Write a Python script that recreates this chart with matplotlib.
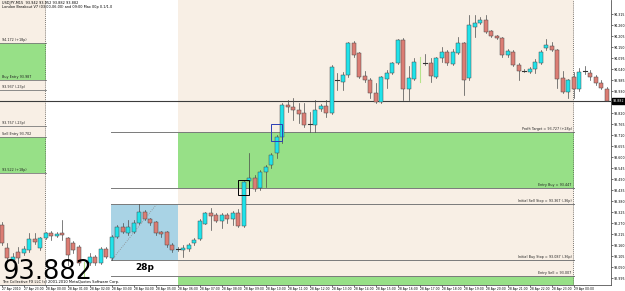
import numpy as np
import pandas as pd
import matplotlib
matplotlib.use("Agg")
import matplotlib.pyplot as plt
from matplotlib.patches import Rectangle
import matplotlib.transforms as mtransforms

# USDJPY M15 bars, 27 Apr 22:00 -> 29 Apr 01:30
symbol = "USDJPY,M15"
start_time = "2010-04-27 22:00"

opens = [93.262, 93.147, 93.087, 93.127, 93.122, 93.137, 93.192, 93.147, 93.197, 93.222,
         93.207, 93.222, 93.197, 93.172, 93.152, 93.067, 93.072, 93.102, 93.072, 93.142,
         93.097, 93.202, 93.252, 93.222, 93.227, 93.272, 93.327, 93.292, 93.277, 93.227,
         93.227, 93.162, 93.142, 93.137, 93.142, 93.172, 93.192, 93.267, 93.322, 93.312,
         93.282, 93.312, 93.292, 93.322, 93.257, 93.482, 93.497, 93.447, 93.527, 93.562,
         93.622, 93.702, 93.862, 93.852, 93.837, 93.822, 93.767, 93.762, 93.842, 93.857,
         93.822, 93.987, 93.977, 94.012, 94.172, 94.122, 94.007, 93.987, 93.922, 93.877,
         93.992, 94.022, 94.072, 94.187, 93.942, 93.992, 94.072, 94.072, 94.072, 94.002,
         94.097, 94.127, 94.067, 94.122, 94.172, 93.997, 94.252, 94.272, 94.287, 94.232,
         94.207, 94.197, 94.112, 94.127, 94.062, 94.032, 94.027, 94.042, 94.072, 94.147,
         94.157, 94.137, 93.997, 93.927, 94.002, 93.942, 94.032, 94.022, 94.002, 93.972,
         93.942]
highs = [93.277, 93.172, 93.122, 93.152, 93.157, 93.222, 93.222, 93.202, 93.227, 93.232,
         93.227, 93.287, 93.202, 93.182, 93.162, 93.077, 93.122, 93.112, 93.152, 93.152,
         93.212, 93.262, 93.272, 93.287, 93.287, 93.367, 93.337, 93.297, 93.282, 93.232,
         93.232, 93.172, 93.152, 93.162, 93.172, 93.197, 93.292, 93.327, 93.347, 93.322,
         93.322, 93.322, 93.332, 93.342, 93.482, 93.622, 93.512, 93.537, 93.562, 93.622,
         93.712, 93.872, 93.887, 93.897, 93.872, 93.872, 93.827, 93.887, 93.867, 93.887,
         94.062, 94.022, 94.027, 94.177, 94.182, 94.127, 94.032, 93.997, 93.972, 94.007,
         94.037, 94.077, 94.192, 94.197, 94.057, 94.097, 94.102, 94.117, 94.097, 94.102,
         94.152, 94.137, 94.142, 94.202, 94.177, 94.312, 94.312, 94.302, 94.312, 94.237,
         94.212, 94.202, 94.142, 94.137, 94.072, 94.042, 94.052, 94.092, 94.137, 94.192,
         94.177, 94.142, 94.032, 93.992, 94.027, 94.047, 94.057, 94.037, 94.012, 93.987,
         93.952]
lows = [93.162, 93.077, 93.077, 93.072, 93.112, 93.127, 93.167, 93.137, 93.192, 93.187,
        93.202, 93.187, 93.062, 93.122, 93.062, 92.997, 93.062, 93.062, 93.067, 93.097,
        93.087, 93.197, 93.222, 93.212, 93.222, 93.267, 93.287, 93.262, 93.212, 93.202,
        93.152, 93.127, 93.132, 93.102, 93.132, 93.162, 93.187, 93.267, 93.237, 93.277,
        93.247, 93.272, 93.262, 93.252, 93.252, 93.477, 93.432, 93.437, 93.452, 93.547,
        93.597, 93.672, 93.827, 93.787, 93.772, 93.752, 93.727, 93.727, 93.832, 93.802,
        93.817, 93.937, 93.937, 94.002, 94.102, 93.997, 93.977, 93.897, 93.872, 93.872,
        93.947, 94.017, 94.067, 93.887, 93.887, 93.987, 93.977, 94.062, 93.977, 93.997,
        94.077, 94.062, 94.062, 94.117, 93.912, 93.987, 94.202, 94.267, 94.222, 94.202,
        94.192, 94.102, 94.102, 94.057, 93.987, 94.027, 94.022, 94.022, 94.067, 94.137,
        94.132, 93.947, 93.922, 93.897, 93.897, 93.932, 94.017, 93.987, 93.962, 93.942,
        93.882]
closes = [93.172, 93.097, 93.102, 93.097, 93.142, 93.192, 93.177, 93.197, 93.222, 93.207,
          93.217, 93.212, 93.112, 93.137, 93.072, 93.067, 93.102, 93.072, 93.142, 93.102,
          93.202, 93.252, 93.227, 93.252, 93.272, 93.327, 93.292, 93.272, 93.222, 93.217,
          93.162, 93.137, 93.142, 93.147, 93.162, 93.187, 93.282, 93.322, 93.307, 93.282,
          93.312, 93.292, 93.322, 93.257, 93.477, 93.497, 93.442, 93.527, 93.552, 93.612,
          93.702, 93.862, 93.852, 93.837, 93.817, 93.762, 93.767, 93.837, 93.857, 93.822,
          94.052, 93.987, 94.012, 94.172, 94.112, 94.002, 93.987, 93.922, 93.877, 94.002,
          94.022, 94.072, 94.187, 93.942, 93.997, 94.077, 94.072, 94.072, 94.007, 94.097,
          94.127, 94.072, 94.127, 94.172, 93.987, 94.262, 94.272, 94.287, 94.227, 94.207,
          94.197, 94.112, 94.132, 94.062, 94.032, 94.032, 94.042, 94.077, 94.127, 94.162,
          94.137, 93.992, 93.927, 93.987, 93.942, 94.027, 94.032, 94.002, 93.972, 93.947,
          93.882]
marked_bars = [15, 76]   # bars drawn in light green

# London breakout setup for 28 Apr (bar indexes)
box_start, box_end = 20, 32      # 03:00 - 06:00
day_start, day_end = 8, 104      # 28 Apr 00:00 / 29 Apr 00:00
entry_offset = 0.08
target_pips = 28
trend_end = 28.2
buy_bar, target_bar = 44, 50

# previous session levels (27 Apr)
prev_levels = [94.172, 93.987, 93.937, 93.757, 93.702, 93.522]
prev_labels = ["94.172 (+18p)", "Buy Entry 93.987", "93.937 (-23p)",
               "93.757 (-23p)", "Sell Entry 93.702", "93.522 (+18p)"]
prev_zones = [(93.987, 94.172), (93.522, 93.702)]

times = pd.date_range(start_time, periods=len(opens), freq="15min")

range_high = max(highs[box_start:box_end])
range_low = min(lows[box_start:box_end])
entry_buy = range_high + entry_offset
entry_sell = range_low - entry_offset
profit_target = entry_buy + target_pips / 100
stop_pips = round((range_high - entry_sell) * 100)

beige = "#f8efe5"
green = "#97e087"
bull = "#1fe3ea"
bear = "#dc7d74"
edge = "#4a4a4a"

fig = plt.figure(figsize=(6.25, 2.91), dpi=100)
ax = fig.add_axes([0, 6 / 291, 611 / 625, 285 / 291])
ax.set_facecolor("white")
ax.set_xlim(-0.31, 110.78)
ax.set_ylim(92.962, 94.387)

# session backgrounds
ax.axvspan(-1, day_start, color=beige, lw=0, zorder=0)
ax.axvspan(box_end, day_end, color=beige, lw=0, zorder=0)

# previous day zones
for lo, hi in prev_zones:
    ax.add_patch(Rectangle((-1, lo), day_start + 1, hi - lo, color=green, lw=0, zorder=1))
for lv, lab in zip(prev_levels, prev_labels):
    ax.plot([-1, day_start], [lv, lv], color="#7a7a7a", lw=0.6, zorder=2)
    ax.text(0.1, lv + 0.004, lab, fontsize=2.4, va="bottom", ha="left", color="#222222", zorder=5)

# range box
ax.add_patch(Rectangle((box_start - 0.13, range_low), box_end - box_start + 0.18,
                       range_high - range_low, color="#a9d3e5", lw=0, zorder=1))
ax.plot([box_start, trend_end], [range_low, range_high], color="#8a8a8a", lw=0.6, ls=":", zorder=2)
ax.text((box_start + box_end) / 2, range_low - 0.035, "%dp" % target_pips, fontsize=6.5,
        fontweight="bold", ha="center", va="center", zorder=5)

# breakout zones
ax.add_patch(Rectangle((box_end, entry_buy), day_end - box_end, profit_target - entry_buy,
                       color=green, lw=0, zorder=1))
ax.add_patch(Rectangle((box_end, entry_sell - target_pips / 100), day_end - box_end,
                       target_pips / 100, color=green, lw=0, zorder=1))

levels = [profit_target, entry_buy, range_high, range_low, entry_sell]
level_labels = ["Profit Target = %.3f (+%dp)" % (profit_target, target_pips),
                "Entry Buy = %.3f" % entry_buy,
                "Initial Sell Stop = %.3f (-%dp)" % (range_high, stop_pips),
                "Initial Buy Stop = %.3f (-%dp)" % (range_low, stop_pips),
                "Entry Sell = %.3f" % entry_sell]
for lv, lab in zip(levels, level_labels):
    ax.plot([box_start - 0.13, day_end], [lv, lv], color="#7a7a7a", lw=0.7, zorder=2)
    ax.text(day_end - 0.4, lv + 0.003, lab, fontsize=2.4, ha="right", va="bottom",
            color="#222222", zorder=5)

# day separators
for d in (day_start, day_end):
    ax.axvline(d - 0.1, color="#555555", lw=0.6, ls=(0, (1, 1.5)), zorder=2)

# current price line
ax.axhline(closes[-1], color="#3c3c3c", lw=0.8, zorder=2)

# candles
w = 0.66
for i in range(len(opens)):
    o, h, l, c = opens[i], highs[i], lows[i], closes[i]
    if i in marked_bars:
        ax.plot([i, i], [l, h], color="#b5e38a", lw=0.8, zorder=3)
        continue
    ax.plot([i, i], [l, h], color=edge, lw=0.5, zorder=3)
    if abs(c - o) < 1e-6:
        ax.plot([i - w / 2, i + w / 2], [o, o], color="#333333", lw=0.8, zorder=4)
        continue
    col = bull if c > o else bear
    ax.add_patch(Rectangle((i - w / 2, min(o, c)), w, abs(c - o), facecolor=col,
                           edgecolor=edge, lw=0.35, zorder=4))

# trigger squares
ax.add_patch(Rectangle((buy_bar - 1, entry_buy - 0.037), 2, 0.075, fill=False,
                       edgecolor="black", lw=0.7, zorder=6))
ax.add_patch(Rectangle((target_bar - 1, profit_target - 0.045), 2, 0.085, fill=False,
                       edgecolor="#2b3db5", lw=0.7, zorder=6))

# axes styling
for s in ("left", "top"):
    ax.spines[s].set_visible(False)
ax.spines["right"].set_color("#555555")
ax.spines["bottom"].set_color("#555555")
ax.spines["right"].set_linewidth(0.6)
ax.spines["bottom"].set_linewidth(0.6)

# price scale; the label under the current price tag is hidden by the tag
yt = np.round(92.995 + 0.055 * np.arange(25), 3)
ax.yaxis.tick_right()
ax.set_yticks(yt)
ax.set_yticklabels(["" if abs(v - closes[-1]) < 0.02 else "%.3f" % v for v in yt])
ax.tick_params(axis="y", labelsize=2.3, length=1.2, width=0.4, pad=0.8)

xt = list(range(0, day_end + 1, 4))
xl = []
for k in xt:
    t = times[k]
    xl.append(t.strftime("%d %b %Y") if k == 0 else t.strftime("%d %b %H:%M"))
ax.set_xticks(xt)
ax.set_xticklabels(xl, ha="left")
ax.tick_params(axis="x", labelsize=2.2, length=1.2, width=0.4, pad=0.5)

# current price tag on the scale
trans = mtransforms.blended_transform_factory(ax.transAxes, ax.transData)
ax.text(1.003, closes[-1], "%.3f" % closes[-1], transform=trans, fontsize=2.3, color="white",
        va="center", ha="left", bbox=dict(facecolor="black", edgecolor="black", pad=0.4),
        zorder=7, clip_on=False)

# header
ax.text(0.003, 0.997, "%s  %.3f %.3f %.3f %.3f" % (symbol, opens[-1], highs[-1], lows[-1], closes[-1]),
        transform=ax.transAxes, fontsize=2.5, va="top", ha="left")
ax.text(0.003, 0.982, "London Breakout V7 (03:00-06:00) and 09:00 Max 00p 0.1/1.0",
        transform=ax.transAxes, fontsize=2.5, va="top", ha="left")

fig.text(2 / 625, 12 / 291, "%.3f" % closes[-1], fontsize=18.5, va="baseline", ha="left")
fig.text(2 / 625, 8 / 291, "The Collective FX LLC (c) 2001-2010 MetaQuotes Software Corp.",
         fontsize=2.6, va="baseline", ha="left")

fig.savefig("out.png", dpi=100)
